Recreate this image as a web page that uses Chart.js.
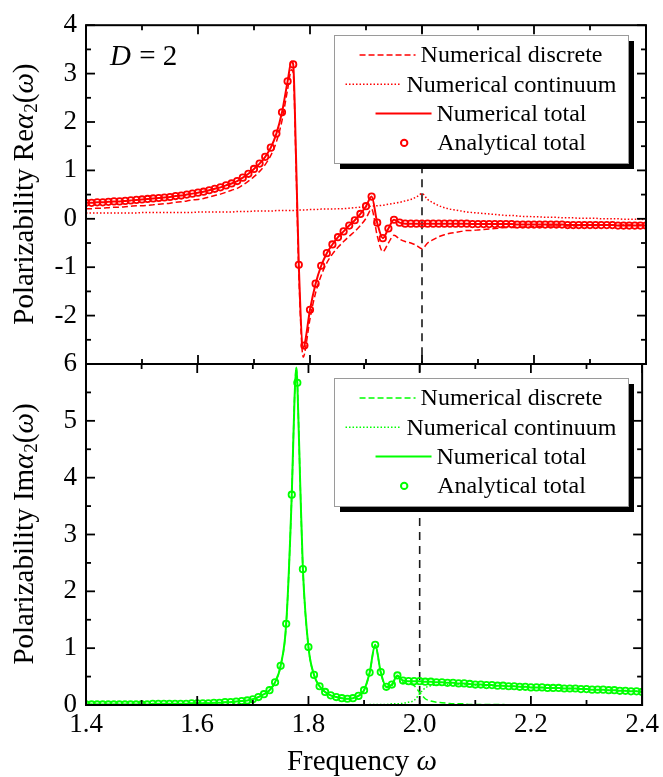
<!DOCTYPE html>
<html>
<head>
<meta charset="utf-8">
<script src="https://cdn.jsdelivr.net/npm/chart.js@4.4.0/dist/chart.umd.min.js"></script>
<style>
html,body{margin:0;padding:0;background:#fff;}
#wrap{position:relative;width:663px;height:777px;}
canvas{position:absolute;left:0;top:0;}
</style>
</head>
<body>
<div id="wrap">
  <canvas id="reChart" width="663" height="777"></canvas>
  <canvas id="imChart" width="663" height="777"></canvas>
</div>
<script>
// ---------- data ----------
const freq = [
  1.40,1.41,1.42,1.43,1.44,1.45,1.46,1.47,1.48,1.49,
  1.50,1.51,1.52,1.53,1.54,1.55,1.56,1.57,1.58,1.59,
  1.60,1.61,1.62,1.63,1.64,1.65,1.66,1.67,1.68,1.69,
  1.70,1.71,1.72,1.73,1.74,1.75,1.76,1.77,1.78,1.79,
  1.80,1.81,1.82,1.83,1.84,1.85,1.86,1.87,1.88,1.89,
  1.90,1.91,1.92,1.93,1.94,1.95,1.96,1.97,1.98,1.99,
  2.00,2.01,2.02,2.03,2.04,2.05,2.06,2.07,2.08,2.09,
  2.10,2.11,2.12,2.13,2.14,2.15,2.16,2.17,2.18,2.19,
  2.20,2.21,2.22,2.23,2.24,2.25,2.26,2.27,2.28,2.29,
  2.30,2.31,2.32,2.33,2.34,2.35,2.36,2.37,2.38,2.39,
  2.40];

// Re alpha_2
const reDisc = [
  0.21,0.21,0.22,0.22,0.23,0.24,0.24,0.25,0.26,0.27,
  0.27,0.28,0.29,0.30,0.31,0.32,0.34,0.35,0.37,0.39,
  0.40,0.42,0.45,0.48,0.51,0.55,0.59,0.63,0.70,0.78,
  0.87,0.98,1.12,1.31,1.59,2.03,2.67,3.02,-1.13,-2.80,
  -2.07,-1.53,-1.17,-0.91,-0.73,-0.59,-0.47,-0.36,-0.26,-0.14,
  0.01,0.20,-0.35,-0.68,-0.50,-0.34,-0.42,-0.47,-0.50,-0.55,
  -0.62,-0.50,-0.43,-0.37,-0.33,-0.30,-0.28,-0.26,-0.24,-0.24,
  -0.23,-0.22,-0.21,-0.20,-0.19,-0.18,-0.18,-0.18,-0.17,-0.17,
  -0.16,-0.16,-0.15,-0.15,-0.15,-0.14,-0.15,-0.15,-0.14,-0.14,
  -0.14,-0.14,-0.13,-0.13,-0.13,-0.14,-0.13,-0.13,-0.13,-0.13,
  -0.12];
const reCont = [
  0.12,0.12,0.12,0.12,0.12,0.12,0.12,0.12,0.12,0.12,
  0.13,0.13,0.13,0.13,0.13,0.13,0.13,0.13,0.13,0.13,
  0.14,0.14,0.14,0.14,0.14,0.14,0.14,0.15,0.15,0.15,
  0.16,0.16,0.16,0.16,0.17,0.17,0.17,0.17,0.18,0.18,
  0.19,0.19,0.20,0.20,0.20,0.21,0.21,0.22,0.23,0.24,
  0.25,0.26,0.27,0.28,0.30,0.32,0.34,0.37,0.40,0.45,
  0.52,0.40,0.33,0.27,0.23,0.20,0.18,0.16,0.14,0.13,
  0.12,0.11,0.10,0.09,0.08,0.07,0.07,0.06,0.05,0.05,
  0.04,0.04,0.03,0.03,0.03,0.02,0.02,0.02,0.01,0.01,
  0.01,0.01,0.00,0.00,0.00,0.00,-0.01,-0.01,-0.01,-0.01,
  -0.02];
const reTotal = [
  0.33,0.33,0.34,0.34,0.35,0.36,0.36,0.37,0.38,0.39,
  0.40,0.41,0.42,0.43,0.44,0.45,0.47,0.48,0.50,0.52,
  0.54,0.56,0.59,0.62,0.65,0.69,0.73,0.78,0.85,0.93,
  1.03,1.14,1.28,1.47,1.76,2.20,2.84,3.19,-0.95,-2.62,
  -1.88,-1.34,-0.97,-0.71,-0.53,-0.38,-0.26,-0.14,-0.03,0.10,
  0.26,0.46,-0.08,-0.40,-0.20,-0.02,-0.08,-0.10,-0.10,-0.10,
  -0.10,-0.10,-0.10,-0.10,-0.10,-0.10,-0.10,-0.10,-0.10,-0.11,
  -0.11,-0.11,-0.11,-0.11,-0.11,-0.11,-0.11,-0.12,-0.12,-0.12,
  -0.12,-0.12,-0.12,-0.12,-0.12,-0.12,-0.13,-0.13,-0.13,-0.13,
  -0.13,-0.13,-0.13,-0.13,-0.13,-0.14,-0.14,-0.14,-0.14,-0.14,
  -0.14];
// extra line samples read at the sharp resonance (lines only)
const rePeakFreq  = [1.767, 1.775, 1.788];
const rePeakDisc  = [3.08, 1.12, -2.86];
const rePeakTotal = [3.25, 1.30, -2.67];

// Im alpha_2
const imDisc = [
  0.01,0.01,0.01,0.01,0.01,0.01,0.01,0.01,0.01,0.01,
  0.01,0.01,0.02,0.02,0.02,0.02,0.02,0.02,0.02,0.03,
  0.03,0.03,0.03,0.04,0.04,0.05,0.05,0.06,0.07,0.08,
  0.10,0.14,0.19,0.26,0.40,0.69,1.43,3.70,5.67,2.39,
  1.02,0.53,0.33,0.23,0.17,0.14,0.12,0.11,0.12,0.16,
  0.26,0.56,1.05,0.57,0.31,0.34,0.50,0.40,0.37,0.34,
  0.22,0.11,0.07,0.05,0.04,0.03,0.02,0.02,0.02,0.01,
  0.01,0.01,0.01,0.01,0.01,0.01,0.00,0.00,0.00,0.00,
  0.00,0.00,0.00,0.00,0.00,0.00,0.00,0.00,0.00,0.00,
  0.00,0.00,0.00,0.00,0.00,0.00,0.00,0.00,0.00,0.00,
  0.00];
const imCont = [
  0.00,0.00,0.00,0.00,0.00,0.00,0.00,0.00,0.00,0.00,
  0.00,0.00,0.00,0.00,0.00,0.00,0.00,0.00,0.00,0.00,
  0.00,0.00,0.00,0.00,0.00,0.00,0.00,0.00,0.00,0.00,
  0.00,0.00,0.00,0.00,0.00,0.00,0.00,0.00,0.00,0.00,
  0.00,0.00,0.00,0.00,0.00,0.00,0.00,0.00,0.00,0.00,
  0.00,0.01,0.01,0.01,0.01,0.02,0.02,0.03,0.05,0.08,
  0.20,0.30,0.34,0.35,0.36,0.36,0.37,0.36,0.36,0.36,
  0.35,0.35,0.34,0.34,0.34,0.34,0.33,0.33,0.32,0.32,
  0.31,0.31,0.31,0.30,0.30,0.30,0.29,0.29,0.29,0.28,
  0.28,0.27,0.27,0.27,0.26,0.26,0.25,0.25,0.24,0.24,
  0.23];
const imTotal = [
  0.01,0.01,0.01,0.01,0.01,0.01,0.01,0.01,0.01,0.01,
  0.01,0.01,0.02,0.02,0.02,0.02,0.02,0.02,0.02,0.03,
  0.03,0.03,0.03,0.04,0.04,0.05,0.05,0.06,0.07,0.08,
  0.10,0.14,0.19,0.26,0.40,0.69,1.43,3.70,5.67,2.39,
  1.02,0.53,0.33,0.23,0.17,0.14,0.12,0.11,0.12,0.16,
  0.26,0.57,1.06,0.58,0.32,0.36,0.52,0.43,0.42,0.42,
  0.42,0.41,0.41,0.40,0.40,0.39,0.39,0.38,0.38,0.37,
  0.36,0.36,0.35,0.35,0.34,0.34,0.33,0.33,0.32,0.32,
  0.31,0.31,0.31,0.30,0.30,0.30,0.29,0.29,0.29,0.28,
  0.28,0.27,0.27,0.27,0.26,0.26,0.25,0.25,0.24,0.24,
  0.23];
const imPeakFreq  = [1.775, 1.778, 1.785];
const imPeakDisc  = [5.40, 5.94, 3.95];
const imPeakTotal = [5.40, 5.94, 3.95];

const seriesNames = ['Numerical discrete','Numerical continuum','Numerical total','Analytical total'];
const xTicks = [1.4,1.6,1.8,2.0,2.2,2.4];
const xMinor = [1.5,1.7,1.9,2.1,2.3];
const reTicks = [-3,-2,-1,0,1,2,3,4];
const reMinor = [-2.5,-1.5,-0.5,0.5,1.5,2.5,3.5];
const imTicks = [0,1,2,3,4,5,6];
const imMinor = [0.5,1.5,2.5,3.5,4.5,5.5];
const threshold = 2.0;   // dashed vertical marker

const FONT = "'Liberation Serif','Times New Roman',serif";

function pts(arr){ return freq.map((f,i)=>({x:f,y:arr[i]})); }
function withPeaks(arr, pf, pv){
  return pts(arr).concat(pf.map((f,i)=>({x:f,y:pv[i]}))).sort((a,b)=>a.x-b.x);
}

function makeDatasets(color, s){
  return [
    {label:seriesNames[0], data:withPeaks(s.disc, s.pf, s.pdisc), borderColor:color, borderWidth:1.5, borderDash:[6,3], pointRadius:0, cubicInterpolationMode:'monotone'},
    {label:seriesNames[1], data:pts(s.cont), borderColor:color, borderWidth:1.5, borderDash:[1.5,2], pointRadius:0, cubicInterpolationMode:'monotone'},
    {label:seriesNames[2], data:withPeaks(s.total, s.pf, s.ptotal), borderColor:color, borderWidth:2, pointRadius:0, cubicInterpolationMode:'monotone'},
    {label:seriesNames[3], data:pts(s.total), showLine:false, borderColor:color, pointRadius:3.2, pointBorderWidth:1.8,
     pointBorderColor:color, pointBackgroundColor:'rgba(255,255,255,0)'}
  ];
}

// rotated y title with italic alpha / omega and a subscript 2
function drawYTitle(ctx, cx, cy, part){
  const segs = [
    ['Polarizability '+part, 'normal', 29, 0],
    ['\u03B1', 'italic', 29, 0],
    ['2', 'normal', 19, 7],
    ['(', 'normal', 29, 0],
    ['\u03C9', 'italic', 29, 0],
    [')', 'normal', 29, 0]
  ];
  let total = 0;
  segs.forEach(s=>{ ctx.font = s[1]+' '+s[2]+'px '+FONT; s.w = ctx.measureText(s[0]).width; total += s.w; });
  ctx.save();
  ctx.translate(cx, cy);
  ctx.rotate(-Math.PI/2);
  ctx.fillStyle = '#000';
  ctx.textBaseline = 'middle';
  ctx.textAlign = 'left';
  let px = -total/2;
  segs.forEach(s=>{ ctx.font = s[1]+' '+s[2]+'px '+FONT; ctx.fillText(s[0], px, s[3]); px += s.w + (s[0]==='\u03B1'?1:0); });
  ctx.restore();
}

function drawLegend(ctx, chart, top){
  const bx = 334, bw = 294, bh = 128;
  ctx.save();
  ctx.fillStyle = '#000';
  ctx.fillRect(bx+6, top+6, bw, bh);
  ctx.fillStyle = '#fff';
  ctx.fillRect(bx, top, bw, bh);
  ctx.strokeStyle = '#9a9a9a';
  ctx.lineWidth = 1;
  ctx.strokeRect(bx+0.5, top+0.5, bw, bh);
  ctx.font = '24px '+FONT;
  ctx.textBaseline = 'middle';
  ctx.textAlign = 'left';
  chart.data.datasets.forEach((ds,i)=>{
    const cy = top + 20 + i*29.3;
    const tw = ctx.measureText(ds.label).width;
    const sx = 481 - (56+5+tw)/2;
    if(ds.showLine === false){
      ctx.setLineDash([]);
      ctx.strokeStyle = ds.pointBorderColor;
      ctx.lineWidth = 2;
      ctx.beginPath(); ctx.arc(sx+28, cy, 3.2, 0, Math.PI*2); ctx.stroke();
    } else {
      ctx.setLineDash(ds.borderDash || []);
      ctx.strokeStyle = ds.borderColor;
      ctx.lineWidth = ds.borderWidth;
      ctx.beginPath(); ctx.moveTo(sx, cy); ctx.lineTo(sx+56, cy); ctx.stroke();
    }
    ctx.setLineDash([]);
    ctx.fillStyle = '#000';
    ctx.fillText(ds.label, sx+61, cy+1);
  });
  ctx.restore();
}

function makeFrame(cfg){
  return {
    id:'frame',
    beforeDatasetsDraw(chart){
      const {ctx, chartArea:a, scales:{x}} = chart;
      const px = x.getPixelForValue(threshold);
      ctx.save();
      ctx.strokeStyle = '#1a1a1a';
      ctx.lineWidth = 1.6;
      ctx.setLineDash([8,6]);
      ctx.beginPath(); ctx.moveTo(px, a.top); ctx.lineTo(px, a.bottom); ctx.stroke();
      ctx.restore();
    },
    afterDraw(chart){
      const {ctx, chartArea:a, scales:{x,y}} = chart;
      ctx.save();
      ctx.strokeStyle = '#000';
      ctx.lineWidth = 1.8;
      const seg = (x1,y1,x2,y2)=>{ ctx.beginPath(); ctx.moveTo(x1,y1); ctx.lineTo(x2,y2); ctx.stroke(); };
      xTicks.forEach(v=>{ const p = x.getPixelForValue(v); seg(p,a.bottom,p,a.bottom-9); seg(p,a.top,p,a.top+9); });
      xMinor.forEach(v=>{ const p = x.getPixelForValue(v); seg(p,a.bottom,p,a.bottom-5); seg(p,a.top,p,a.top+5); });
      cfg.yTicks.forEach(v=>{ const p = y.getPixelForValue(v); seg(a.left,p,a.left+9,p); seg(a.right,p,a.right-9,p); });
      cfg.yMinor.forEach(v=>{ const p = y.getPixelForValue(v); seg(a.left,p,a.left+5,p); seg(a.right,p,a.right-5,p); });
      ctx.lineWidth = 2;
      ctx.strokeRect(a.left, a.top, a.right-a.left, a.bottom-a.top);
      ctx.restore();

      drawLegend(ctx, chart, cfg.legendTop);
      drawYTitle(ctx, 25, (a.top+a.bottom)/2, cfg.part);

      ctx.save();
      ctx.fillStyle = '#000';
      ctx.textBaseline = 'middle';
      if(cfg.note){
        ctx.font = 'italic 29px '+FONT;
        ctx.fillText('D', 110, 57);
        const w = ctx.measureText('D').width;
        ctx.font = '29px '+FONT;
        ctx.fillText(' = 2', 110+w+1, 57);
      }
      if(cfg.xTitle){
        ctx.font = '29px '+FONT;
        const w1 = ctx.measureText('Frequency ').width;
        ctx.font = 'italic 29px '+FONT;
        const w2 = ctx.measureText('\u03C9').width;
        const sx = 362 - (w1+w2)/2;
        ctx.font = '29px '+FONT;
        ctx.fillText('Frequency ', sx, 762);
        ctx.font = 'italic 29px '+FONT;
        ctx.fillText('\u03C9', sx+w1, 762);
      }
      ctx.restore();
    }
  };
}

function makeChart(id, color, series, cfg){
  return new Chart(document.getElementById(id), {
    type:'line',
    data:{datasets:makeDatasets(color, series)},
    options:{
      responsive:false,
      animation:false,
      layout:{padding:cfg.padding},
      plugins:{legend:{display:false}, tooltip:{enabled:false}},
      scales:{
        x:{
          type:'linear', min:1.4, max:2.4,
          display:cfg.showX,
          grid:{display:false, drawTicks:false},
          border:{display:false},
          afterBuildTicks:s=>{ s.ticks = xTicks.map(v=>({value:v})); },
          afterFit:s=>{ if(cfg.showX) s.height = 72; },
          ticks:{autoSkip:false, maxRotation:0, padding:4, color:'#000', font:{family:FONT, size:27},
                 callback:v=>Number(v).toFixed(1)}
        },
        y:{
          min:cfg.yTicks[0], max:cfg.yTicks[cfg.yTicks.length-1],
          grid:{display:false, drawTicks:false},
          border:{display:false},
          afterBuildTicks:s=>{ s.ticks = cfg.yTicks.map(v=>({value:v})); },
          afterFit:s=>{ s.width = 86; },
          ticks:{padding:9, color:'#000', font:{family:FONT, size:27},
                 callback:v=>(cfg.hideLabel === v ? '' : String(v))}
        }
      }
    },
    plugins:[makeFrame(cfg)]
  });
}

makeChart('reChart', '#ff0000',
  {disc:reDisc, cont:reCont, total:reTotal, pf:rePeakFreq, pdisc:rePeakDisc, ptotal:rePeakTotal}, {
  padding:{top:22, right:17, bottom:413, left:0},
  showX:false, yTicks:reTicks, yMinor:reMinor, hideLabel:-3,
  legendTop:35, part:'Re', note:true, xTitle:false
});
makeChart('imChart', '#00ff00',
  {disc:imDisc, cont:imCont, total:imTotal, pf:imPeakFreq, pdisc:imPeakDisc, ptotal:imPeakTotal}, {
  padding:{top:364, right:17, bottom:0, left:0},
  showX:true, yTicks:imTicks, yMinor:imMinor, hideLabel:null,
  legendTop:378, part:'Im', note:false, xTitle:true
});
</script>
</body>
</html>
